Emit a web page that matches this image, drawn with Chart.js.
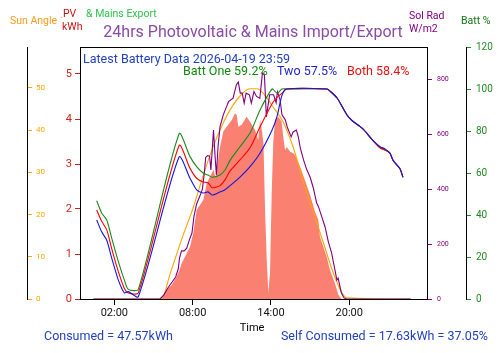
<!DOCTYPE html>
<html>
<head>
<meta charset="utf-8">
<script src="https://cdn.jsdelivr.net/npm/chart.js@4.4.1/dist/chart.umd.min.js"></script>
<style>
  html, body { margin: 0; padding: 0; background: #fff; }
  canvas { display: block; }
</style>
</head>
<body>
<canvas id="grafico" width="500" height="353"></canvas>
<script>
// Datos (horas del día en el eje X)

// ---------- Baterías ----------
const battHoras = [0.65, 1.03, 1.42, 1.80, 2.31, 2.77, 3.07, 3.84, 6.96, 7.80, 8.31, 8.80, 9.18, 9.49,
  10.10, 10.48, 10.87, 11.63, 12.40, 13.17, 14.09, 14.47, 14.85, 15.20, 18.30, 18.53, 19.07, 19.83,
  20.21, 21.05, 21.74, 22.36, 22.74, 23.12, 23.36, 23.89, 24.12]
const battOne = [46.8, 41, 37.6, 29, 17.8, 9, 4.6, 4.6, 78.6, 67.8, 63, 60, 59, 58,
  59, 61.4, 66, 72.5, 79, 90, 100, 98, 100, 100, 100, 99, 95.7, 87.6,
  85, 81, 76, 72, 71, 69.5, 66, 62, 58]
const battBoth = [42.4, 37, 32.9, 24, 13, 5, 2.9, 2.9, 73, 62.2, 57.5, 55.7, 55.4, 53,
  54, 56.7, 61, 66.2, 72, 82, 93, 96, 98, 100, 100, 99, 95.7, 87.6,
  85, 81, 76, 72, 71, 69.5, 66, 62, 58]
const battTwo = [37.6, 32, 28, 19.5, 9, 2.9, 3.5, 1.1, 67.6, 57.5, 52, 50.5, 51, 49.5,
  51, 52, 54, 58, 63, 69.5, 80.5, 87, 97, 100, 100, 99, 95.7, 87.6,
  85, 81, 76, 72.5, 71.5, 69.5, 66, 62, 58]

// ---------- Ángulo del sol ----------
const solHoras = [0.5, 5.6, 6.3, 7.26, 8.03, 8.95, 9.87, 10.87, 11.86, 12.4, 12.93, 13.4, 14.16,
  14.93, 15.7, 16.46, 17.2, 18.0, 18.9, 19.8, 24.7]
const anguloSol = [0, 0, 6.2, 15, 21.5, 30.6, 38.4, 44.8, 48.8, 49.8, 49.8, 48.8, 45.5,
  42, 36, 28, 21, 13.5, 5.2, 0.3, 0]

// ---------- Radiación solar W/m2 ----------
const radHoras = [0.37, 5.5, 5.8, 6.1, 6.4, 6.7, 6.9, 7.0, 7.15, 7.35, 7.55, 7.75, 7.95, 8.1, 8.3,
  8.6, 8.75, 8.9, 9.0, 9.15, 9.3, 9.4, 9.5, 9.6, 9.72, 9.82, 9.95, 10.1, 10.35, 10.6, 10.75,
  11.1, 11.35, 11.5, 11.65, 11.8, 11.95, 12.1, 12.35, 12.5, 12.7, 12.9, 13.15, 13.35, 13.5,
  13.65, 13.9, 14.2, 14.4, 14.5, 14.7, 14.85, 15.1, 15.25, 15.55, 15.7, 15.95, 16.1, 16.25,
  16.5, 16.75, 17.0, 17.25, 17.5, 17.65, 17.9, 18.15, 18.4, 18.65, 18.8, 18.95, 19.05, 19.15,
  19.4, 19.6, 19.8, 24.7]
const radSolar = [0, 0, 15, 40, 60, 80, 110, 150, 175, 175, 185, 215, 240, 300, 345,
  380, 400, 460, 515, 522, 520, 470, 540, 615, 520, 452, 555, 627, 670, 700, 718,
  731, 779, 790, 749, 749, 713, 749, 743, 713, 755, 737, 730, 822, 815,
  663, 743, 743, 714, 754, 725, 670, 652, 626, 590, 608, 615, 590, 550,
  506, 470, 444, 404, 350, 335, 299, 262, 208, 168, 131, 95, 69, 76,
  22, 4, 0, 0]

// ---------- Generación PV kWh ----------
const pvHoras = [5.55, 5.78, 6.0, 6.4, 6.78, 7.0, 7.17, 7.42, 7.8, 8.05, 8.31, 8.82, 9.08, 9.34,
  9.6, 9.75, 10.1, 10.35, 10.61, 11.0, 11.25, 11.38, 11.5, 11.76, 12.14, 12.4, 12.78, 13.03,
  13.17, 13.3, 13.43, 13.55, 13.68, 13.8, 13.93, 14.06, 14.18, 14.31, 14.57, 14.82, 14.95,
  15.08, 15.21, 15.47, 15.73, 15.98, 16.23, 16.61, 17.0, 17.38, 17.63, 17.76, 17.89, 18.27,
  18.53, 18.9, 19.16, 19.4]
const pvKwh = [0, 0.1, 0.21, 0.31, 0.5, 0.65, 0.8, 0.94, 1.16, 1.46, 1.98, 2.2, 2.57, 2.72,
  2.87, 2.7, 3.38, 3.72, 3.83, 3.98, 4.13, 4.09, 3.83, 3.87, 4.05, 3.94, 3.76, 3.53,
  3.98, 3.76, 3.46, 1.98, 0.87, 0.13, 0.58, 2.36, 3.47, 3.98, 4.05, 3.94, 3.6,
  3.31, 3.38, 3.27, 3.24, 3.13, 2.94, 2.64, 2.31, 1.94, 1.76, 1.38, 1.27, 0.94,
  0.64, 0.35, 0.1, 0]

// ---------- Ticks de los ejes ----------
const ticksHora = [2, 8, 14, 20]
const ticksSol = [0, 10, 20, 30, 40, 50]
const ticksPv = [0, 1, 2, 3, 4, 5]
const ticksRad = [0, 200, 400, 600, 800]
const ticksBatt = [0, 20, 40, 60, 80, 100, 120]

const puntos = (xs, ys) => xs.map((x, i) => ({ x, y: ys[i] }))

const NARANJA = '#ffa500'
const ROJO = '#d42020'
const MORADO = '#800080'
const VERDE = '#228b22'
const AZUL_TXT = '#2241c4'

Chart.defaults.font.family = 'Roboto'
Chart.defaults.color = '#000'

// Textos fijos del gráfico (títulos, leyendas de ejes y resumen)
const textos = {
  id: 'textos',
  afterDraw(chart) {
    const { ctx, chartArea: a } = chart
    ctx.save()
    // borde superior del área
    ctx.strokeStyle = '#000'
    ctx.lineWidth = 1
    ctx.beginPath()
    ctx.moveTo(a.left, a.top + 0.5)
    ctx.lineTo(a.right, a.top + 0.5)
    ctx.stroke()

    ctx.textBaseline = 'middle'
    const t = (s, x, y, color, size, align) => {
      ctx.font = `${size}px Roboto`
      ctx.fillStyle = color
      ctx.textAlign = align || 'left'
      ctx.fillText(s, x, y)
    }
    t('24hrs Photovoltaic & Mains Import/Export', 253, 33, '#8a4ba8', 16, 'center')
    t('Sun Angle', 10, 21, '#ff9a1a', 10.5)
    t('.', 60, 15, '#ff9a1a', 10.5)
    t('PV', 63, 14, '#cc1111', 10.5)
    t('kWh', 62, 27, '#cc1111', 10.5)
    t('& Mains Export', 86, 14, '#2ec24a', 10.5)
    t('Sol Rad', 409, 16, MORADO, 10.5)
    t('W/m2', 409, 29, MORADO, 10.5)
    t('Batt %', 461, 21, '#117711', 10.5)

    t('Latest Battery Data 2026-04-19 23:59', 83, 60, AZUL_TXT, 12.5)
    t('Batt One 59.2%', 183, 72, '#118811', 12.5)
    t('Two 57.5%', 277, 72, '#1f1fd0', 12.5)
    t('Both 58.4%', 347, 72, '#ee1111', 12.5)

    t('Time', 252, 328, '#000', 11, 'center')
    t('Consumed = 47.57kWh', 44, 337, AZUL_TXT, 12.5)
    t('Self Consumed = 17.63kWh = 37.05%', 488, 337, AZUL_TXT, 12.5, 'right')
    ctx.restore()
  }
}

const ejeY = (color, ticks, min, max, extra) => Object.assign({
  type: 'linear',
  min, max,
  afterBuildTicks: ax => { ax.ticks = ticks.map(v => ({ value: v })) },
  border: { color: '#000', width: 1 },
  grid: { drawOnChartArea: false, color, tickLength: 5 },
  ticks: { color, padding: 4 }
}, extra)

new Chart(document.getElementById('grafico'), {
  type: 'line',
  data: {
    datasets: [
      { label: 'Two', data: puntos(battHoras, battTwo), yAxisID: 'yBatt', borderColor: '#1515e0', borderWidth: 1.1, pointRadius: 0, tension: 0.25 },
      { label: 'Both', data: puntos(battHoras, battBoth), yAxisID: 'yBatt', borderColor: '#ff0000', borderWidth: 1.1, pointRadius: 0, tension: 0.25 },
      { label: 'One', data: puntos(battHoras, battOne), yAxisID: 'yBatt', borderColor: '#1a8a1a', borderWidth: 1.1, pointRadius: 0, tension: 0.25 },
      { label: 'Sol Rad', data: puntos(radHoras, radSolar), yAxisID: 'yRad', borderColor: MORADO, borderWidth: 1.1, pointRadius: 0, tension: 0 },
      { label: 'Sun Angle', data: puntos(solHoras, anguloSol), yAxisID: 'ySol', borderColor: NARANJA, borderWidth: 1.1, pointRadius: 0, cubicInterpolationMode: 'monotone' },
      { label: 'PV', data: puntos(pvHoras, pvKwh), yAxisID: 'yPv', borderWidth: 0, backgroundColor: '#fa8072', fill: 'origin', pointRadius: 0, tension: 0 }
    ]
  },
  options: {
    responsive: false,
    animation: false,
    events: [],
    layout: { padding: { top: 47, left: 0, right: 0, bottom: 0 } },
    plugins: { legend: { display: false }, tooltip: { enabled: false }, title: { display: false } },
    scales: {
      x: {
        type: 'linear',
        min: -0.63, max: 25.96,
        afterBuildTicks: ax => { ax.ticks = ticksHora.map(v => ({ value: v })) },
        afterFit: ax => { ax.height = 54 },
        border: { color: '#000', width: 1 },
        grid: { drawOnChartArea: false, color: '#000', tickLength: 6 },
        ticks: {
          color: '#111', font: { size: 11 }, padding: 2, maxRotation: 0, autoSkip: false,
          callback: v => String(v).padStart(2, '0') + ':00'
        }
      },
      ySol: ejeY(NARANJA, ticksSol, 0, 59.7, {
        position: 'left', weight: 1,
        afterFit: ax => { ax.width = 27 },
        grid: { drawOnChartArea: false, color: NARANJA, tickLength: -5 },
        ticks: { color: NARANJA, mirror: true, padding: 9, font: { size: 8 } }
      }),
      yPv: ejeY(ROJO, ticksPv, 0, 5.6, {
        position: 'left', weight: 0,
        afterFit: ax => { ax.width = 53 },
        ticks: { color: ROJO, padding: 3, font: { size: 11 } }
      }),
      yRad: ejeY(MORADO, ticksRad, 0, 917, {
        position: 'right', weight: 0,
        afterFit: ax => { ax.width = 39 },
        ticks: { color: MORADO, padding: 5, font: { size: 7 } }
      }),
      yBatt: ejeY(VERDE, ticksBatt, 0, 120, {
        position: 'right', weight: 1,
        afterFit: ax => { ax.width = 34 },
        ticks: { color: VERDE, padding: 5, font: { size: 10 } }
      })
    }
  },
  plugins: [textos]
})
</script>
</body>
</html>
